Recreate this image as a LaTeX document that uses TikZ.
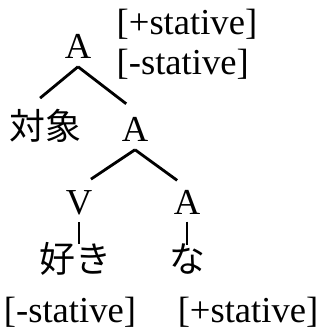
\documentclass[tikz,border=0pt]{standalone}
\usepackage{fontspec}
\setmainfont{Liberation Serif}
\newfontfamily\jafont{Noto Sans CJK JP}

\begin{document}
\begin{tikzpicture}[x=0.01cm,y=-0.01cm,
  cat/.style={anchor=base,inner sep=2pt,font=\fontsize{10.4}{12}\selectfont},
  word/.style={anchor=base,inner sep=0pt,font=\fontsize{10.2}{12}\selectfont\jafont},
  feat/.style={inner sep=0pt,font=\fontsize{10.4}{12}\selectfont},
  branch/.style={line width=0.8pt}]
\useasboundingbox (0,0) rectangle (323,334);
\node[cat] (rootA) at (78,59) {A};
\node[feat,anchor=base west] (plusTop) at (116,35) {[+stative]};
\node[feat,anchor=base west] (minusTop) at (116,75) {[-stative]};
\node[word] (taisho) at (45,140) {対象};
\node[cat] (midA) at (135,142) {A};
\node[cat] (verbV) at (79,214) {V};
\node[cat] (adjA) at (187,214) {A};
\node[word] (suki) at (75,272) {好き};
\node[word] (na) at (187,272) {な};
\node[feat,anchor=base] (minusBot) at (70,322) {[-stative]};
\node[feat,anchor=base] (plusBot) at (248,322) {[+stative]};
\draw[branch] (rootA.south) -- ([xshift=-1.4pt,yshift=3.1pt]taisho.north);
\draw[branch] (rootA.south) -- ([xshift=-2.5pt,yshift=1.8pt]midA.north);
\draw[branch] (midA.south) -- ([xshift=3.4pt,yshift=0.9pt]verbV.north);
\draw[branch] (midA.south) -- ([xshift=-2.8pt,yshift=0.5pt]adjA.north);
\draw[branch,shorten >=-0.7pt] (verbV.south) -- (verbV.south |- suki.north);
\draw[branch,shorten >=-0.7pt] (adjA.south) -- (adjA.south |- na.north);
\end{tikzpicture}
\end{document}
